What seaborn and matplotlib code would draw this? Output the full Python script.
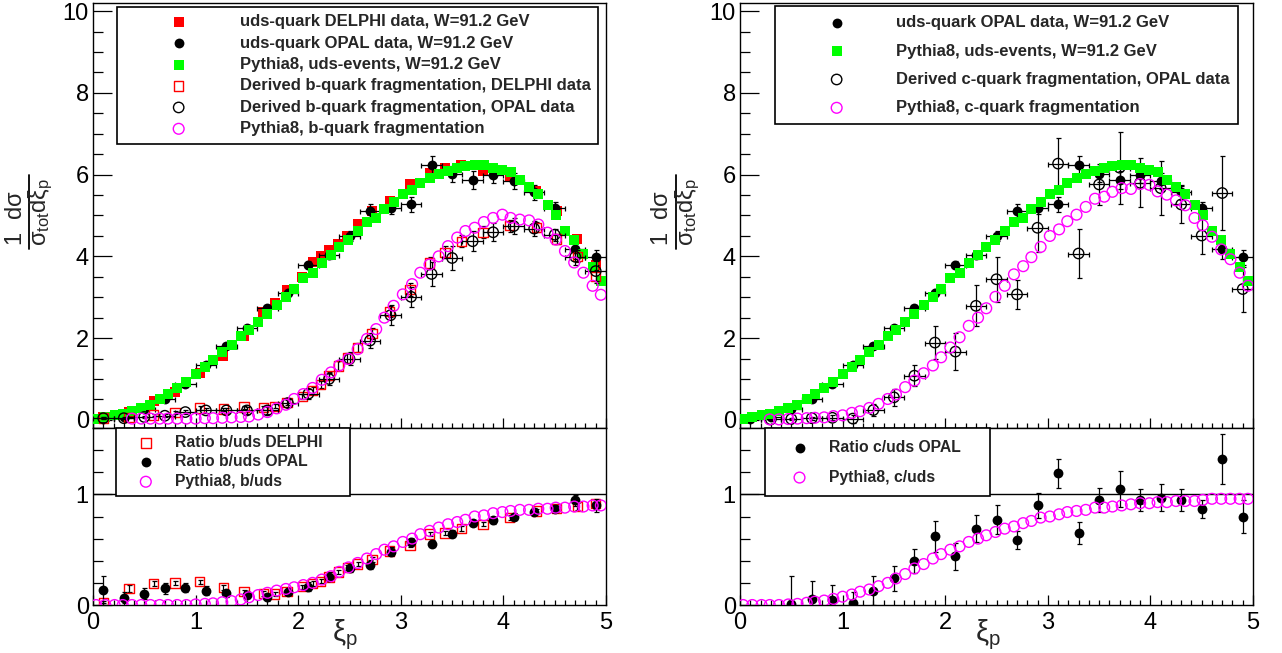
import matplotlib
matplotlib.use("Agg")
import matplotlib.pyplot as plt
from matplotlib.ticker import MultipleLocator
from matplotlib.lines import Line2D
import seaborn as sns

# ROOT-like look: white, no grid
sns.set_theme(style="white")
plt.rcParams['font.family'] = ['Liberation Sans', 'DejaVu Sans']
plt.rcParams['mathtext.fontset'] = 'custom'
plt.rcParams['mathtext.rm'] = 'Liberation Sans'
plt.rcParams['mathtext.it'] = 'Liberation Sans'
plt.rcParams['mathtext.bf'] = 'Liberation Sans:bold'

# ---------------- data ----------------
# Pythia8 bin centres (shared by all MC curves)
XI_MC = [0.03, 0.12, 0.21, 0.29, 0.38, 0.47, 0.56, 0.65, 0.73, 0.82,
         0.91, 1.00, 1.09, 1.17, 1.26, 1.35, 1.44, 1.52, 1.61, 1.70,
         1.79, 1.88, 1.96, 2.05, 2.14, 2.23, 2.32, 2.40, 2.49, 2.58,
         2.67, 2.76, 2.84, 2.93, 3.02, 3.11, 3.19, 3.28, 3.37, 3.46,
         3.55, 3.63, 3.72, 3.81, 3.90, 3.99, 4.07, 4.16, 4.25, 4.34,
         4.43, 4.51, 4.60, 4.69, 4.78, 4.87, 4.95]

# Pythia8 uds events
PY_UDS = [0.02, 0.07, 0.11, 0.15, 0.21, 0.28, 0.37, 0.50, 0.63, 0.77,
          0.93, 1.11, 1.30, 1.47, 1.67, 1.84, 2.04, 2.20, 2.40, 2.60,
          2.80, 3.01, 3.19, 3.46, 3.60, 3.83, 4.03, 4.22, 4.40, 4.63,
          4.85, 4.94, 5.16, 5.34, 5.52, 5.62, 5.80, 5.92, 6.01, 6.08,
          6.16, 6.20, 6.24, 6.23, 6.16, 6.11, 6.07, 5.88, 5.70, 5.53,
          5.25, 5.02, 4.63, 4.39, 4.07, 3.75, 3.40]

# Pythia8 b-quark fragmentation (starts at 5th MC bin)
PY_B = [0.03, 0.03, 0.03, 0.03, 0.03, 0.03, 0.03, 0.03,
        0.04, 0.04, 0.05, 0.06, 0.07, 0.08, 0.13, 0.19, 0.28, 0.37,
        0.51, 0.63, 0.78, 0.98, 1.16, 1.33, 1.49, 1.73, 1.98, 2.22,
        2.50, 2.79, 3.07, 3.32, 3.60, 3.80, 4.00, 4.25, 4.46, 4.62,
        4.70, 4.84, 4.94, 5.02, 4.94, 4.90, 4.88, 4.78, 4.58, 4.41,
        4.13, 3.85, 3.60, 3.28, 3.06]

# Pythia8 c-quark fragmentation (starts at 4th MC bin)
PY_C = [0.01, 0.01, 0.02, 0.03, 0.04, 0.05, 0.06, 0.09, 0.11, 0.17,
        0.21, 0.29, 0.39, 0.51, 0.62, 0.80, 0.96, 1.14, 1.33, 1.53,
        1.77, 2.02, 2.30, 2.50, 2.73, 3.01, 3.28, 3.56, 3.76, 3.98,
        4.23, 4.50, 4.66, 4.86, 5.02, 5.21, 5.41, 5.46, 5.58, 5.67,
        5.65, 5.77, 5.75, 5.59, 5.51, 5.37, 5.25, 4.94, 4.76, 4.48,
        4.17, 3.93, 3.60, 3.28]

# Pythia8 ratios
PY_B_RATIO = [0.0, 0.0, 0.0, 0.0, 0.0, 0.0, 0.0, 0.0, 0.0, 0.0,
              0.0, 0.005, 0.01, 0.015, 0.025, 0.035, 0.05, 0.07, 0.09, 0.11,
              0.13, 0.145, 0.16, 0.18, 0.20, 0.23, 0.26, 0.30, 0.34, 0.38,
              0.42, 0.46, 0.50, 0.53, 0.57, 0.60, 0.64, 0.67, 0.70, 0.73,
              0.75, 0.77, 0.80, 0.81, 0.83, 0.84, 0.85, 0.86, 0.86, 0.87,
              0.87, 0.88, 0.88, 0.89, 0.89, 0.90, 0.90]
PY_C_RATIO = [0.0, 0.0, 0.0, 0.0, 0.0, 0.005, 0.01, 0.02, 0.03, 0.04,
              0.055, 0.075, 0.095, 0.12, 0.14, 0.17, 0.20, 0.24, 0.28, 0.33,
              0.37, 0.42, 0.46, 0.50, 0.53, 0.57, 0.60, 0.63, 0.66, 0.69,
              0.71, 0.74, 0.76, 0.79, 0.80, 0.82, 0.84, 0.85, 0.86, 0.88,
              0.88, 0.89, 0.90, 0.91, 0.92, 0.92, 0.93, 0.93, 0.94, 0.94,
              0.94, 0.95, 0.96, 0.96, 0.96, 0.96, 0.96]

# OPAL bins
XI_OPAL = [0.1, 0.3, 0.5, 0.7, 0.9, 1.1, 1.3, 1.5, 1.7, 1.9,
           2.1, 2.3, 2.5, 2.7, 2.9, 3.1, 3.3, 3.5, 3.7, 3.9,
           4.1, 4.3, 4.5, 4.7, 4.9]
OPAL_HALF_BIN = 0.1

OPAL_UDS = [0.02, 0.08, 0.27, 0.51, 0.88, 1.34, 1.80, 2.24, 2.73, 3.11,
            3.78, 4.03, 4.50, 5.12, 5.19, 5.27, 6.24, 6.02, 5.88, 6.00,
            5.84, 5.57, 5.19, 4.19, 3.98]
OPAL_UDS_ERR = [0.02, 0.02, 0.03, 0.04, 0.05, 0.05, 0.06, 0.07, 0.08, 0.08,
                0.10, 0.10, 0.12, 0.15, 0.15, 0.18, 0.22, 0.20, 0.22, 0.20,
                0.20, 0.18, 0.15, 0.25, 0.18]

OPAL_B = [0.04, 0.04, 0.07, 0.10, 0.19, 0.23, 0.23, 0.23, 0.23, 0.41,
          0.64, 1.00, 1.49, 1.94, 2.56, 3.01, 3.57, 3.96, 4.37, 4.59,
          4.74, 4.68, 4.53, 3.99, 3.64]
OPAL_B_ERR = [0.02, 0.02, 0.03, 0.04, 0.05, 0.06, 0.07, 0.08, 0.09, 0.10,
              0.12, 0.14, 0.16, 0.18, 0.25, 0.25, 0.30, 0.30, 0.25, 0.22,
              0.20, 0.18, 0.15, 0.20, 0.25]

OPAL_B_RATIO = [0.14, 0.065, 0.10, 0.15, 0.155, 0.13, 0.105, 0.09, 0.07, 0.12,
                0.165, 0.255, 0.335, 0.365, 0.48, 0.57, 0.555, 0.645, 0.74, 0.765,
                0.80, 0.845, 0.87, 0.945, 0.90]
OPAL_B_RATIO_ERR = [0.12, 0.05, 0.05, 0.05, 0.04, 0.04, 0.03, 0.03, 0.03, 0.03,
                    0.04, 0.04, 0.04, 0.04, 0.04, 0.04, 0.03, 0.03, 0.03, 0.03,
                    0.03, 0.03, 0.03, 0.05, 0.06]

# derived c-quark (OPAL) starts at xi = 0.3
OPAL_C = [0.01, 0.02, 0.04, 0.05, 0.03, 0.24, 0.55, 1.08, 1.89,
          1.67, 2.79, 3.44, 3.07, 4.70, 6.27, 4.07, 5.76, 6.17, 5.80,
          5.67, 5.27, 4.51, 5.55, 3.20]
OPAL_C_ERR = [0.02, 0.03, 0.04, 0.06, 0.10, 0.15, 0.20, 0.25, 0.40,
              0.45, 0.50, 0.55, 0.35, 0.60, 0.62, 0.60, 0.50, 0.88, 0.60,
              0.67, 0.45, 0.45, 0.90, 0.55]

# c/uds ratio (OPAL) starts at xi = 0.5
OPAL_C_RATIO = [0.01, 0.05, 0.045, 0.02, 0.13, 0.24, 0.40, 0.62, 0.44,
                0.69, 0.77, 0.59, 0.90, 1.19, 0.65, 0.95, 1.05, 0.95,
                0.97, 0.95, 0.87, 1.32, 0.80]
OPAL_C_RATIO_ERR = [0.25, 0.17, 0.14, 0.10, 0.13, 0.11, 0.11, 0.14, 0.12,
                    0.12, 0.13, 0.08, 0.11, 0.13, 0.10, 0.11, 0.16, 0.10,
                    0.12, 0.10, 0.08, 0.23, 0.15]

# DELPHI bins
XI_DELPHI = [0.10, 0.35, 0.59, 0.80, 1.04, 1.27, 1.47, 1.66, 1.77, 1.89,
             2.04, 2.14, 2.22, 2.30, 2.39, 2.48, 2.58, 2.72, 2.89, 3.09,
             3.28, 3.43, 3.59, 3.80, 4.06, 4.32, 4.52, 4.72, 4.90]
DELPHI_UDS = [0.06, 0.20, 0.47, 0.68, 1.15, 1.56, 2.04, 2.65, 2.86, 3.17,
              3.50, 3.85, 4.00, 4.15, 4.30, 4.50, 4.80, 5.12, 5.35, 5.77,
              6.04, 6.16, 6.24, 6.10, 5.93, 5.60, 5.12, 4.42, 3.78]
DELPHI_B = [0.04, 0.06, 0.12, 0.18, 0.29, 0.26, 0.31, 0.30, 0.33, 0.43,
            0.57, 0.72, 0.86, 1.08, 1.32, 1.51, 1.77, 2.11, 2.65, 3.19,
            3.84, 4.10, 4.37, 4.59, 4.75, 4.71, 4.43, 4.00, 3.51]
DELPHI_B_ERR = [0.02, 0.02, 0.03, 0.03, 0.04, 0.04, 0.04, 0.05, 0.05, 0.06,
                0.07, 0.08, 0.09, 0.10, 0.11, 0.12, 0.12, 0.13, 0.14, 0.15,
                0.15, 0.15, 0.15, 0.15, 0.15, 0.12, 0.12, 0.15, 0.15]
DELPHI_B_RATIO = [0.02, 0.15, 0.195, 0.20, 0.21, 0.16, 0.12, 0.105, 0.10, 0.12,
                  0.165, 0.195, 0.215, 0.255, 0.30, 0.34, 0.37, 0.41, 0.49, 0.54,
                  0.64, 0.65, 0.69, 0.73, 0.79, 0.85, 0.87, 0.89, 0.92]
DELPHI_B_RATIO_ERR = [0.02, 0.03, 0.02, 0.02, 0.02, 0.02, 0.02, 0.02, 0.02, 0.02,
                      0.02, 0.02, 0.02, 0.02, 0.02, 0.02, 0.02, 0.02, 0.02, 0.02,
                      0.02, 0.02, 0.02, 0.02, 0.02, 0.02, 0.02, 0.03, 0.03]

RED, GREEN, MAGENTA, BLACK = '#ff0000', '#00ff00', '#ff00ff', '#000000'
W, H = 1282.0, 653.0


def points(ax, x, y, color, marker, filled, label, z, size=50):
    # one marker series drawn through seaborn
    if filled:
        kw = dict(facecolor=color, edgecolor=color, linewidth=0)
    else:
        kw = dict(facecolor='none', edgecolor=color, linewidth=1.0)
    sns.scatterplot(x=x, y=y, marker=marker, s=size, ax=ax, legend=False,
                    zorder=z, **kw)
    h = ax.collections[-1]
    h.set_label(label)
    return h


def bars(ax, x, y, yerr, xerr=None, z=2):
    ax.errorbar(x, y, yerr=yerr, xerr=xerr, fmt='none', ecolor=BLACK,
                elinewidth=0.9, capsize=1.8, capthick=0.9, zorder=z)


def style(ax, upper):
    ax.set_xlim(0, 5)
    for s in ax.spines.values():
        s.set_visible(True)
        s.set_color(BLACK)
        s.set_linewidth(1.0)
    ax.xaxis.set_major_locator(MultipleLocator(1))
    ax.xaxis.set_minor_locator(MultipleLocator(0.1))
    if upper:
        ax.set_ylim(-0.2, 10.2)
        ax.yaxis.set_major_locator(MultipleLocator(2))
        ax.yaxis.set_minor_locator(MultipleLocator(0.5))
        ax.tick_params(axis='x', labelbottom=False)
    else:
        ax.set_ylim(0, 1.6)
        ax.yaxis.set_major_locator(MultipleLocator(1))
        ax.yaxis.set_minor_locator(MultipleLocator(0.2))
        ax.axhline(1.0, color=BLACK, lw=1.0, zorder=1)
    ax.tick_params(axis='both', which='both', direction='in', bottom=True,
                   left=True, top=False, right=False, colors=BLACK,
                   labelsize=17, width=0.9)
    ax.tick_params(axis='x', which='major', length=7, pad=5)
    ax.tick_params(axis='x', which='minor', length=3.5)
    ax.tick_params(axis='y', which='major', length=14, pad=3)
    ax.tick_params(axis='y', which='minor', length=7)


def legend(ax, handles, box, size, spacing, hlen, pad=0.45):
    leg = ax.legend(handles=handles, loc='upper left', bbox_to_anchor=box,
                    mode='expand', frameon=True, fancybox=False, shadow=False,
                    prop={'weight': 'bold', 'size': size},
                    handlelength=hlen, handletextpad=0.4, borderpad=pad,
                    labelspacing=spacing, borderaxespad=0, framealpha=1)
    leg.get_frame().set_edgecolor(BLACK)
    leg.get_frame().set_linewidth(1.2)
    leg.set_zorder(20)


def frac_label(x_num, x_bar, x_den, y_mid, half_len):
    # ROOT-style 1/sigma_tot dsigma/dxi_p, built from rotated pieces (pixels)
    fig.text(x_num / W, 1 - (y_mid + 6) / H, r'$1\ \ d\sigma$', rotation=90,
             ha='center', va='center', fontsize=17)
    fig.text(x_den / W, 1 - y_mid / H, r'$\sigma_{tot}d\xi_{p}$', rotation=90,
             ha='center', va='center', fontsize=17)
    fig.add_artist(Line2D([x_bar / W, x_bar / W],
                          [1 - (y_mid - half_len) / H, 1 - (y_mid + half_len) / H],
                          color=BLACK, lw=1.3))


fig = plt.figure(figsize=(12.82, 6.53), dpi=100)
ax_lu = fig.add_axes([93 / W, (H - 428) / H, 513 / W, 425 / H])
ax_ll = fig.add_axes([93 / W, (H - 605) / H, 513 / W, 177 / H])
ax_ru = fig.add_axes([740 / W, (H - 428) / H, 513 / W, 425 / H])
ax_rl = fig.add_axes([740 / W, (H - 605) / H, 513 / W, 177 / H])

# ---------------- left: b-quark ----------------
h1 = points(ax_lu, XI_DELPHI, DELPHI_UDS, RED, 's', True,
            'uds-quark DELPHI data, W=91.2 GeV', 3)
bars(ax_lu, XI_OPAL, OPAL_UDS, OPAL_UDS_ERR, OPAL_HALF_BIN, z=3.5)
h2 = points(ax_lu, XI_OPAL, OPAL_UDS, BLACK, 'o', True,
            'uds-quark OPAL data, W=91.2 GeV', 4)
h3 = points(ax_lu, XI_MC, PY_UDS, GREEN, 's', True,
            'Pythia8, uds-events, W=91.2 GeV', 5, size=54)
bars(ax_lu, XI_DELPHI, DELPHI_B, DELPHI_B_ERR, z=5.5)
h4 = points(ax_lu, XI_DELPHI, DELPHI_B, RED, 's', False,
            'Derived b-quark fragmentation, DELPHI data', 6, size=46)
bars(ax_lu, XI_OPAL, OPAL_B, OPAL_B_ERR, OPAL_HALF_BIN, z=6.5)
h5 = points(ax_lu, XI_OPAL, OPAL_B, BLACK, 'o', False,
            'Derived b-quark fragmentation, OPAL data', 7, size=56)
h6 = points(ax_lu, XI_MC[4:], PY_B, MAGENTA, 'o', False,
            'Pythia8, b-quark fragmentation', 8, size=60)
style(ax_lu, True)
legend(ax_lu, [h1, h2, h3, h4, h5, h6], (0.0468, 0.0, 0.9376, 0.9906),
       12, 0.38, 6.5)
frac_label(15.5, 29, 41, 212, 37)

bars(ax_ll, XI_DELPHI, DELPHI_B_RATIO, DELPHI_B_RATIO_ERR, z=2.5)
g1 = points(ax_ll, XI_DELPHI, DELPHI_B_RATIO, RED, 's', False,
            'Ratio b/uds DELPHI', 3, size=46)
bars(ax_ll, XI_OPAL, OPAL_B_RATIO, OPAL_B_RATIO_ERR, z=3.5)
g2 = points(ax_ll, XI_OPAL, OPAL_B_RATIO, BLACK, 'o', True,
            'Ratio b/uds OPAL', 4)
g3 = points(ax_ll, XI_MC, PY_B_RATIO, MAGENTA, 'o', False,
            'Pythia8, b/uds', 5, size=60)
style(ax_ll, False)
legend(ax_ll, [g1, g2, g3], (0.0448, 0.0, 0.456, 1.0), 11.3, 0.28, 2.9)
ax_ll.set_xlabel(r'$\xi_{p}$', fontsize=21)
ax_ll.xaxis.set_label_coords(0.49, -0.07)

# ---------------- right: c-quark ----------------
bars(ax_ru, XI_OPAL, OPAL_UDS, OPAL_UDS_ERR, OPAL_HALF_BIN, z=3.5)
k1 = points(ax_ru, XI_OPAL, OPAL_UDS, BLACK, 'o', True,
            'uds-quark OPAL data, W=91.2 GeV', 4)
bars(ax_ru, XI_OPAL[1:], OPAL_C, OPAL_C_ERR, OPAL_HALF_BIN, z=4.5)
k3 = points(ax_ru, XI_OPAL[1:], OPAL_C, BLACK, 'o', False,
            'Derived c-quark fragmentation, OPAL data', 4.8, size=56)
k2 = points(ax_ru, XI_MC, PY_UDS, GREEN, 's', True,
            'Pythia8, uds-events, W=91.2 GeV', 5, size=54)
k4 = points(ax_ru, XI_MC[3:], PY_C, MAGENTA, 'o', False,
            'Pythia8, c-quark fragmentation', 8, size=60)
style(ax_ru, True)
legend(ax_ru, [k1, k2, k3, k4], (0.0682, 0.0, 0.9025, 0.9929), 12, 0.8, 6.3,
       pad=0.55)
frac_label(662.5, 676, 688, 212, 37)

bars(ax_rl, XI_OPAL[2:], OPAL_C_RATIO, OPAL_C_RATIO_ERR, z=3.5)
m1 = points(ax_rl, XI_OPAL[2:], OPAL_C_RATIO, BLACK, 'o', True,
            'Ratio c/uds OPAL', 4)
m2 = points(ax_rl, XI_MC, PY_C_RATIO, MAGENTA, 'o', False,
            'Pythia8, c/uds', 5, size=60)
style(ax_rl, False)
legend(ax_rl, [m1, m2], (0.0487, 0.0, 0.4386, 1.0), 11.3, 0.95, 2.9, pad=0.75)
ax_rl.set_xlabel(r'$\xi_{p}$', fontsize=21)
ax_rl.xaxis.set_label_coords(0.483, -0.07)

fig.savefig('out.png', dpi=100)
